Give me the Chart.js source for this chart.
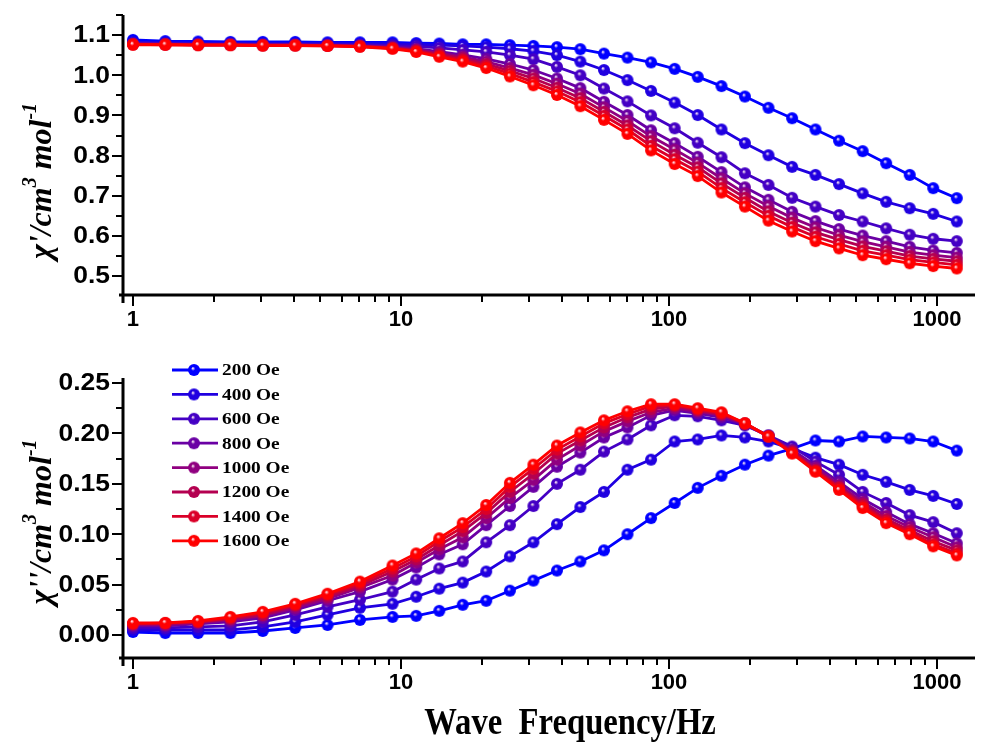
<!DOCTYPE html>
<html><head><meta charset="utf-8">
<script src="https://cdn.jsdelivr.net/npm/chart.js@4.4.0/dist/chart.umd.min.js"></script>
<style>
html,body{margin:0;padding:0;background:#fff;width:989px;height:747px;overflow:hidden}
#top{position:absolute;left:0;top:0;width:989px;height:340px}
#bot{position:absolute;left:0;top:340px;width:989px;height:407px}
</style></head><body>
<div id="top"><canvas id="c1"></canvas></div>
<div id="bot"><canvas id="c2"></canvas></div>
<script>
// ---------------- data ----------------
const frequencies = [1, 1.32, 1.75, 2.31, 3.05, 4.03, 5.32, 7.03, 9.3, 11.4, 13.9, 17.0, 20.8, 25.5, 31.2, 38.2, 46.7, 57.2, 70.0, 85.7, 105, 128, 157, 192, 235, 288, 352, 431, 528, 646, 791, 968, 1185];
const fieldLabels = ['200 Oe', '400 Oe', '600 Oe', '800 Oe', '1000 Oe', '1200 Oe', '1400 Oe', '1600 Oe'];

const chiReal200  = [1.088,1.085,1.084,1.083,1.083,1.083,1.082,1.082,1.082,1.080,1.079,1.077,1.077,1.075,1.073,1.070,1.065,1.054,1.044,1.032,1.016,0.996,0.973,0.947,0.919,0.893,0.865,0.837,0.811,0.781,0.752,0.719,0.694];
const chiReal400  = [1.082,1.081,1.080,1.080,1.079,1.079,1.079,1.078,1.078,1.077,1.075,1.073,1.070,1.066,1.060,1.050,1.034,1.013,0.988,0.961,0.932,0.901,0.865,0.831,0.801,0.772,0.752,0.729,0.706,0.685,0.669,0.655,0.636];
const chiReal600  = [1.080,1.079,1.078,1.078,1.077,1.077,1.076,1.076,1.074,1.072,1.068,1.063,1.058,1.050,1.040,1.021,1.000,0.967,0.935,0.900,0.868,0.832,0.796,0.756,0.727,0.695,0.673,0.652,0.636,0.619,0.603,0.593,0.587];
const chiReal800  = [1.078,1.078,1.077,1.077,1.076,1.076,1.075,1.074,1.071,1.066,1.059,1.051,1.041,1.028,1.013,0.992,0.968,0.934,0.901,0.863,0.831,0.797,0.759,0.721,0.690,0.660,0.637,0.617,0.601,0.587,0.573,0.564,0.558];
const chiReal1000 = [1.078,1.077,1.076,1.076,1.075,1.075,1.074,1.073,1.069,1.064,1.055,1.046,1.034,1.018,1.001,0.979,0.954,0.920,0.886,0.848,0.815,0.782,0.743,0.706,0.674,0.645,0.621,0.602,0.586,0.573,0.560,0.552,0.546];
const chiReal1200 = [1.077,1.077,1.076,1.076,1.075,1.075,1.074,1.072,1.068,1.062,1.052,1.042,1.028,1.011,0.992,0.969,0.943,0.909,0.875,0.836,0.802,0.771,0.731,0.695,0.661,0.633,0.609,0.591,0.574,0.562,0.550,0.543,0.537];
const chiReal1400 = [1.077,1.076,1.075,1.075,1.074,1.074,1.073,1.072,1.067,1.060,1.049,1.038,1.023,1.004,0.983,0.960,0.933,0.899,0.865,0.824,0.791,0.760,0.719,0.684,0.650,0.622,0.598,0.580,0.563,0.552,0.541,0.534,0.528];
const chiReal1600 = [1.076,1.076,1.075,1.075,1.074,1.074,1.073,1.071,1.066,1.058,1.046,1.034,1.018,0.997,0.975,0.951,0.923,0.889,0.854,0.813,0.779,0.749,0.708,0.673,0.638,0.611,0.587,0.569,0.552,0.542,0.532,0.525,0.519];

const chiImag200  = [0.003,0.002,0.002,0.002,0.004,0.007,0.010,0.015,0.018,0.019,0.024,0.030,0.034,0.044,0.054,0.064,0.073,0.084,0.100,0.116,0.131,0.146,0.158,0.169,0.178,0.185,0.193,0.192,0.197,0.196,0.195,0.192,0.183];
const chiImag400  = [0.005,0.005,0.005,0.005,0.008,0.013,0.020,0.027,0.031,0.038,0.046,0.052,0.063,0.078,0.092,0.110,0.127,0.142,0.164,0.174,0.192,0.194,0.198,0.196,0.192,0.185,0.176,0.169,0.159,0.152,0.144,0.138,0.130];
const chiImag600  = [0.007,0.007,0.008,0.009,0.013,0.020,0.028,0.035,0.043,0.055,0.066,0.073,0.092,0.109,0.128,0.150,0.164,0.182,0.194,0.208,0.218,0.217,0.213,0.208,0.198,0.187,0.172,0.159,0.142,0.131,0.119,0.112,0.101];
const chiImag800  = [0.009,0.009,0.011,0.013,0.017,0.025,0.034,0.043,0.055,0.067,0.080,0.090,0.109,0.128,0.147,0.167,0.181,0.196,0.206,0.218,0.223,0.220,0.216,0.209,0.198,0.184,0.168,0.152,0.135,0.122,0.110,0.101,0.091];
const chiImag1000 = [0.010,0.010,0.012,0.015,0.019,0.027,0.036,0.047,0.059,0.072,0.085,0.097,0.116,0.136,0.154,0.174,0.188,0.202,0.212,0.221,0.225,0.222,0.218,0.209,0.197,0.183,0.166,0.149,0.132,0.118,0.107,0.097,0.087];
const chiImag1200 = [0.011,0.011,0.013,0.016,0.020,0.029,0.038,0.049,0.063,0.075,0.089,0.103,0.121,0.142,0.160,0.180,0.193,0.206,0.216,0.224,0.227,0.223,0.219,0.210,0.197,0.182,0.164,0.147,0.130,0.115,0.104,0.093,0.084];
const chiImag1400 = [0.011,0.012,0.013,0.017,0.022,0.030,0.040,0.051,0.066,0.078,0.093,0.107,0.125,0.147,0.165,0.184,0.197,0.210,0.219,0.227,0.228,0.224,0.220,0.210,0.197,0.181,0.163,0.146,0.128,0.113,0.102,0.090,0.081];
const chiImag1600 = [0.012,0.012,0.014,0.018,0.023,0.031,0.041,0.053,0.069,0.081,0.096,0.111,0.129,0.151,0.169,0.188,0.201,0.213,0.222,0.229,0.229,0.225,0.221,0.210,0.197,0.180,0.162,0.144,0.126,0.111,0.100,0.088,0.079];

const xMajorTicks = [1, 10, 100, 1000];
const xTickLabels = ['1', '10', '100', '1000'];
const topYTicks = [0.5, 0.6, 0.7, 0.8, 0.9, 1.0, 1.1];
const topYLabels = ['0.5', '0.6', '0.7', '0.8', '0.9', '1.0', '1.1'];
const botYTicks = [0.00, 0.05, 0.10, 0.15, 0.20, 0.25];
const botYLabels = ['0.00', '0.05', '0.10', '0.15', '0.20', '0.25'];
const xTitle = 'Wave  Frequency/Hz';

// ---------------- styles ----------------
const seriesColors = ['#0000ff', '#2000e0', '#4400c4', '#6a00a4', '#900080', '#b40050', '#da0028', '#ff0000'];
const realSeries = [chiReal200, chiReal400, chiReal600, chiReal800, chiReal1000, chiReal1200, chiReal1400, chiReal1600];
const imagSeries = [chiImag200, chiImag400, chiImag600, chiImag800, chiImag1000, chiImag1200, chiImag1400, chiImag1600];

function sphere(color, r) {
  const s = Math.ceil(r * 2 + 2);
  const c = document.createElement('canvas');
  c.width = s; c.height = s;
  const g = c.getContext('2d');
  const cx = s / 2, cy = s / 2;
  const grad = g.createRadialGradient(cx - r * 0.2, cy - r * 0.3, r * 0.05, cx, cy, r);
  grad.addColorStop(0, 'rgba(255,235,245,1)');
  grad.addColorStop(0.32, color);
  grad.addColorStop(1, color);
  g.fillStyle = grad;
  g.beginPath(); g.arc(cx, cy, r, 0, Math.PI * 2); g.fill();
  return c;
}
const sphereImgs = seriesColors.map(c => sphere(c, 6));

function makeDatasets(series) {
  return series.map((vals, i) => ({
    label: fieldLabels[i],
    data: frequencies.map((f, k) => ({ x: f, y: vals[k] })),
    borderColor: seriesColors[i],
    backgroundColor: seriesColors[i],
    borderWidth: 2.8,
    pointStyle: sphereImgs[i],
    pointRadius: 6,
    tension: 0,
    order: 7 - i
  }));
}

function drawStretched(ctx, text, x, y, font, align, sx) {
  ctx.save();
  ctx.font = font;
  const w = ctx.measureText(text).width * sx;
  let x0 = x;
  if (align === 'center') x0 = x - w / 2;
  else if (align === 'right') x0 = x - w;
  ctx.translate(x0, y);
  ctx.scale(sx, 1);
  ctx.textAlign = 'left';
  ctx.fillText(text, 0, 0);
  ctx.restore();
}

function drawYTitle(ctx, cx, cy, primes) {
  const main = 'bold italic 32px "Liberation Serif"';
  const sup = 'bold italic 20px "Liberation Serif"';
  const segs = [
    { t: '\u03C7' + primes + '/cm', f: main, dy: 0 },
    { t: '3', f: sup, dy: -15 },
    { t: ' mol', f: main, dy: 0 },
    { t: '-1', f: sup, dy: -15 }
  ];
  ctx.save();
  let total = 0;
  segs.forEach(s => { ctx.font = s.f; s.w = ctx.measureText(s.t).width; total += s.w; });
  ctx.translate(cx, cy);
  ctx.rotate(-Math.PI / 2);
  ctx.fillStyle = '#000';
  ctx.textBaseline = 'alphabetic';
  let x = -total / 2;
  segs.forEach(s => { ctx.font = s.f; ctx.fillText(s.t, x, s.dy); x += s.w; });
  ctx.restore();
}

const axisPlugin = {
  id: 'axisDecor',
  afterDraw(chart, args, o) {
    const ctx = chart.ctx, a = chart.chartArea;
    const xs = chart.scales.x, ys = chart.scales.y;
    ctx.save();
    ctx.strokeStyle = '#000';
    ctx.fillStyle = '#000';
    ctx.lineWidth = 3;
    ctx.beginPath(); ctx.moveTo(a.left, a.top); ctx.lineTo(a.left, a.bottom + 8); ctx.stroke();
    ctx.beginPath(); ctx.moveTo(a.left - 4, a.bottom); ctx.lineTo(a.right, a.bottom); ctx.stroke();
    ctx.lineWidth = 2;
    const hl = (x1, y1, x2, y2) => { ctx.beginPath(); ctx.moveTo(x1, y1); ctx.lineTo(x2, y2); ctx.stroke(); };
    o.yMajor.forEach(v => { const y = Math.round(ys.getPixelForValue(v)); hl(a.left, y, a.left - 11, y); });
    o.yMinor.forEach(v => { if (v >= ys.min && v <= ys.max) { const y = Math.round(ys.getPixelForValue(v)); hl(a.left, y, a.left - 7, y); } });
    xMajorTicks.forEach(v => { const x = Math.round(xs.getPixelForValue(v)); hl(x, a.bottom, x, a.bottom + 11); });
    [1, 10, 100].forEach(d => { for (let k = 2; k <= 9; k++) { const x = Math.round(xs.getPixelForValue(k * d)); hl(x, a.bottom, x, a.bottom + 7); } });
    ctx.textBaseline = 'middle';
    o.yMajor.forEach((v, i) => drawStretched(ctx, o.yLabels[i], a.left - 13, ys.getPixelForValue(v) + 1, 'bold 23px "Liberation Sans"', 'right', 1.15));
    ctx.textBaseline = 'top';
    xMajorTicks.forEach((v, i) => drawStretched(ctx, xTickLabels[i], xs.getPixelForValue(v), a.bottom + 14, 'bold 22px "Liberation Sans"', 'center', 1.0));
    drawYTitle(ctx, o.titleX, o.titleY, o.primes);
    if (o.showXTitle) {
      ctx.textBaseline = 'alphabetic';
      drawStretched(ctx, xTitle, 570, 394, 'bold 38px "Liberation Serif"', 'center', 0.86);
    }
    if (o.legend) {
      const lx0 = 172, lx1 = 218, lcx = 194, ly0 = 30, dy = 24.4;
      chart.data.datasets.forEach((ds, i) => {
        const y = ly0 + i * dy;
        ctx.strokeStyle = ds.borderColor; ctx.lineWidth = 2.8;
        hl(lx0, y, lx1, y);
        ctx.drawImage(sphereImgs[i], lcx - sphereImgs[i].width / 2, y - sphereImgs[i].height / 2);
        ctx.fillStyle = '#000';
        ctx.textBaseline = 'middle';
        drawStretched(ctx, ds.label, 222, y + 1, 'bold 17px "Liberation Serif"', 'left', 1.14);
      });
    }
    ctx.restore();
  }
};

function makeChart(id, series, ymin, ymax, opts, pad) {
  return new Chart(document.getElementById(id), {
    type: 'line',
    data: { datasets: makeDatasets(series) },
    plugins: [axisPlugin],
    options: {
      responsive: true, maintainAspectRatio: false, animation: false,
      layout: { padding: pad },
      plugins: { legend: { display: false }, tooltip: { enabled: false }, axisDecor: opts },
      scales: {
        x: { type: 'logarithmic', min: 0.918, max: 1386, display: false },
        y: { type: 'linear', min: ymin, max: ymax, display: false }
      }
    }
  });
}

makeChart('c1', realSeries, 0.453, 1.15, {
  yMajor: topYTicks, yLabels: topYLabels,
  yMinor: [0.55, 0.65, 0.75, 0.85, 0.95, 1.05, 1.15],
  titleX: 51, titleY: 181, primes: "'", showXTitle: false, legend: false
}, { left: 123, top: 15, right: 14, bottom: 45 });

makeChart('c2', imagSeries, -0.0228, 0.255, {
  yMajor: botYTicks, yLabels: botYLabels,
  yMinor: [0.025, 0.075, 0.125, 0.175, 0.225],
  titleX: 51, titleY: 182, primes: "''", showXTitle: true, legend: true
}, { left: 123, top: 38, right: 14, bottom: 89 });
</script>
</body></html>
